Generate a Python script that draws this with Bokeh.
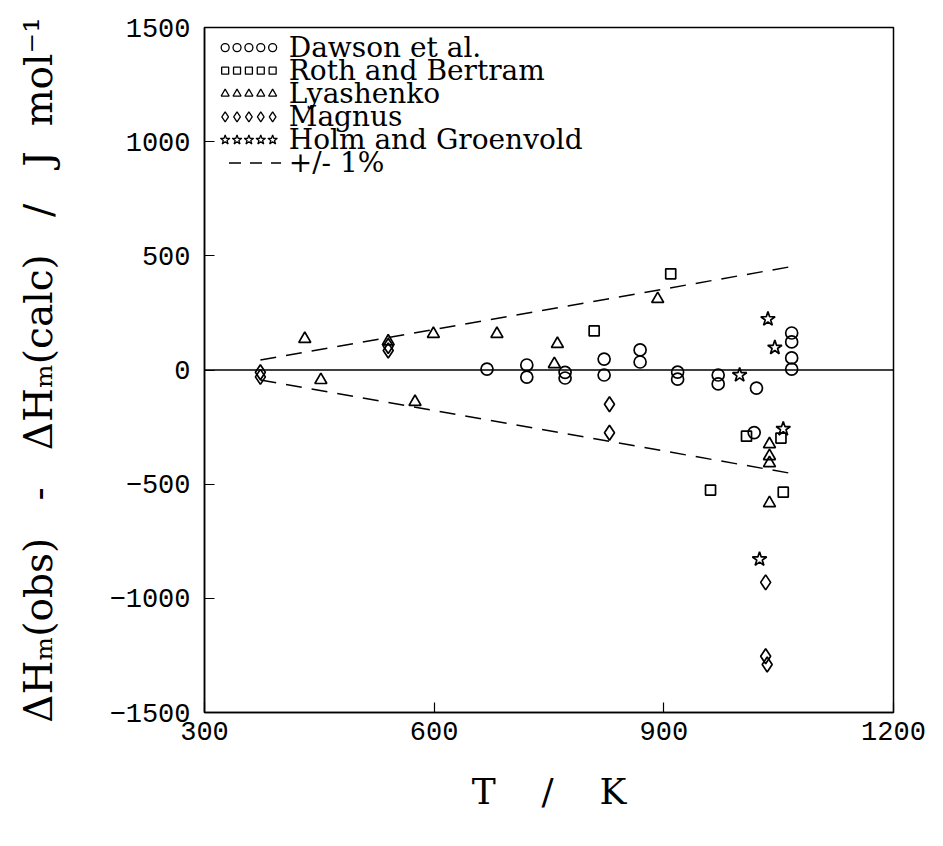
from bokeh.plotting import figure
from bokeh.models import Span, FixedTicker, Range1d
from bokeh.core.properties import value
from bokeh.embed import file_html
from bokeh.resources import INLINE

# ---------------- data ----------------
dawson_T = [669, 721, 721, 771, 771, 822, 822, 869, 869, 918, 918, 971, 971, 1021, 1018, 1067, 1067, 1067, 1067]
dawson_V = [4, 22, -31, -10, -35, 48, -22, 88, 35, -9, -40, -22, -61, -79, -274, 162, 123, 53, 4]

roth_T = [809, 909, 961, 1008, 1053, 1056]
roth_V = [171, 421, -526, -290, -298, -535]

lyash_T = [431, 452, 540, 575, 599, 682, 757, 761, 892, 1038, 1038, 1038, 1038]
lyash_V = [136, -44, 125, -140, 158, 158, 26, 114, 311, -325, -377, -408, -583]

magnus_T = [373, 373, 540, 540, 829, 829, 1033, 1033, 1035]
magnus_V = [-10, -30, 105, 85, -150, -275, -930, -1254, -1290]

holm_T = [999, 1036, 1045, 1056, 1025]
holm_V = [-22, 223, 98, -258, -829]

band_T = [373, 1065]
band_upper = [44, 452]
band_lower = [-44, -452]

x_ticks = [300, 600, 900, 1200]
y_ticks = [-1500, -1000, -500, 0, 500, 1000, 1500]

series_labels = ["Dawson et al.", "Roth and Bertram", "Lyashenko", "Magnus", "Holm and Groenvold"]
band_label = "+/- 1%"

# ---------------- figure ----------------
MONO = "Liberation Mono"
SERIF = "DejaVu Serif"
NB = "\u00a0"
p = figure(width=927, height=830, output_backend="svg", toolbar_location=None,
           x_range=Range1d(300, 1200), y_range=Range1d(-1500, 1500),
           min_border_left=204, min_border_right=34, min_border_top=27, min_border_bottom=118)
p.grid.visible = False
p.outline_line_color = "black"
p.outline_line_width = 1.5
p.background_fill_color = "white"
p.border_fill_color = "white"

for ax in (p.xaxis[0], p.yaxis[0]):
    ax.major_tick_in = 10
    ax.major_tick_out = 0
    ax.minor_tick_line_color = None
    ax.axis_line_width = 1.5
    ax.major_tick_line_width = 1.2
    ax.major_label_text_font = MONO
    ax.major_label_text_font_size = "27px"
    ax.major_label_text_color = "black"
    ax.axis_label_text_font = SERIF
    ax.axis_label_text_font_style = "normal"
    ax.axis_label_text_color = "black"

p.xaxis.ticker = FixedTicker(ticks=x_ticks)
p.yaxis.ticker = FixedTicker(ticks=y_ticks)
p.xaxis.major_label_standoff = 9
p.yaxis.major_label_standoff = 14
p.xaxis.axis_label = "T" + NB * 4 + "/" + NB * 4 + "K"
p.xaxis.axis_label_text_font_size = "36px"
p.xaxis.axis_label_standoff = 28
p.yaxis.axis_label = ("\u0394H\u2098(obs)" + NB * 3 + "-" + NB * 3 + "\u0394H\u2098(calc)"
                      + NB * 3 + "/" + NB * 3 + "J" + NB * 2 + "mol\u207b\u00b9")
p.yaxis.axis_label_text_font_size = "39px"
p.yaxis.axis_label_standoff = 45

# zero line
p.add_layout(Span(location=0, dimension="width", line_color="black", line_width=1.5))

# +/- 1% band
p.line(band_T, band_upper, line_color="black", line_width=1.5, line_dash="16 10")
p.line(band_T, band_lower, line_color="black", line_width=1.5, line_dash="16 10")

common = dict(fill_color=None, line_color="black", line_width=1.7)
p.scatter(dawson_T, dawson_V, marker="circle", size=12, **common)
p.scatter(roth_T, roth_V, marker="square", size=10, **common)
p.scatter(lyash_T, lyash_V, marker="triangle", size=12, **common)
p.scatter(magnus_T, magnus_V, marker="diamond", size=15, **common)
p.scatter(holm_T, holm_V, marker="star", size=15, **common)

# ---------------- manual legend (5 symbols + label per row) ----------------
leg_markers = ["circle", "square", "triangle", "diamond", "star"]
leg_sizes = [8, 7, 8, 10, 10]
row_top = 1412
row_step = 101
sym_x0 = 327
sym_dx = 15.5
txt_x = 410
for i, (mk, sz, lab) in enumerate(zip(leg_markers, leg_sizes, series_labels)):
    yy = row_top - i * row_step
    xs = [sym_x0 + k * sym_dx for k in range(5)]
    p.scatter(xs, [yy] * 5, marker=mk, size=sz, fill_color=None, line_color="black", line_width=1.3)
    p.text([txt_x], [yy], text=[lab], text_font=value(SERIF), text_font_size="28px",
           text_baseline="middle", text_align="left", text_color="black")
yy = row_top - 5 * row_step
p.line([332, 400], [yy, yy], line_color="black", line_width=1.5, line_dash="12 9")
p.text([txt_x], [yy], text=[band_label], text_font=value(SERIF), text_font_size="28px",
       text_baseline="middle", text_align="left", text_color="black")

open("out.html", "w").write(file_html(p, INLINE))
